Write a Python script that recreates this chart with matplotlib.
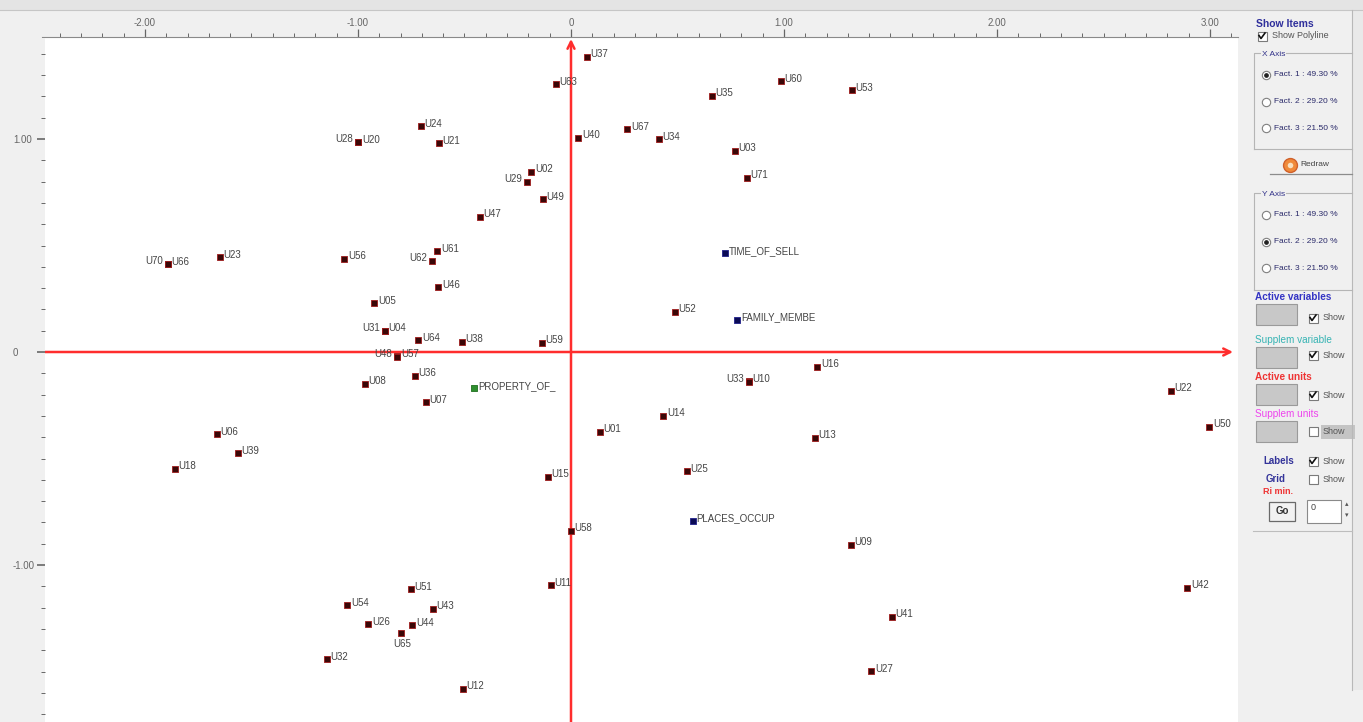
import matplotlib
matplotlib.use("Agg")
import matplotlib.pyplot as plt
from matplotlib.patches import Rectangle
from matplotlib.lines import Line2D
from matplotlib.ticker import MultipleLocator, FuncFormatter
from matplotlib.transforms import Bbox, TransformedBbox

plt.rcParams["font.family"] = ["Liberation Sans", "DejaVu Sans"]

# ---- factor scores of the active units (axis 1 / axis 2) ----
unit_names = [
    "U37", "U63", "U35", "U60", "U53", "U24", "U28", "U20", "U21", "U40",
    "U67", "U34", "U03", "U71", "U02", "U29", "U49", "U47", "U70", "U66",
    "U23", "U56", "U61", "U62", "U46", "U05", "U31", "U04", "U64", "U38",
    "U59", "U52", "U48", "U57", "U36", "U08", "U07", "U16", "U33", "U10",
    "U22", "U14", "U01", "U50", "U13", "U06", "U39", "U18", "U15", "U25",
    "U58", "U09", "U11", "U42", "U41", "U27", "U51", "U54", "U43", "U26",
    "U44", "U65", "U32", "U12",
]
unit_f1 = [
    0.073, -0.070, 0.660, 0.985, 1.318, -0.704, -1.000, -0.998, -0.620, 0.034,
    0.264, 0.413, 0.770, 0.826, -0.186, -0.208, -0.133, -0.427, -1.894, -1.892,
    -1.648, -1.064, -0.628, -0.651, -0.623, -0.923, -0.875, -0.873, -0.717, -0.513,
    -0.136, 0.488, -0.817, -0.815, -0.732, -0.967, -0.682, 1.156, 0.834, 0.836,
    2.815, 0.433, 0.136, 2.996, 1.146, -1.664, -1.563, -1.861, -0.110, 0.543,
    0.000, 1.315, -0.095, 2.894, 1.506, 1.410, -0.753, -1.050, -0.648, -0.951,
    -0.745, -0.800, -1.147, -0.509,
]
unit_f2 = [
    1.385, 1.258, 1.203, 1.272, 1.229, 1.060, 0.986, 0.984, 0.980, 1.005,
    1.045, 1.000, 0.944, 0.818, 0.847, 0.798, 0.717, 0.635, 0.414, 0.413,
    0.446, 0.437, 0.473, 0.426, 0.303, 0.228, 0.100, 0.099, 0.056, 0.048,
    0.044, 0.189, -0.021, -0.022, -0.111, -0.150, -0.236, -0.070, -0.138, -0.139,
    -0.181, -0.300, -0.374, -0.351, -0.402, -0.385, -0.476, -0.548, -0.585, -0.559,
    -0.840, -0.906, -1.094, -1.106, -1.242, -1.498, -1.114, -1.190, -1.205, -1.279,
    -1.282, -1.321, -1.443, -1.581,
]

# ---- variables ----
active_var_names = ["TIME_OF_SELL", "FAMILY_MEMBE", "PLACES_OCCUP"]
active_var_f1 = [0.722, 0.781, 0.573]
active_var_f2 = [0.463, 0.150, -0.792]
supp_var_names = ["PROPERTY_OF_"]
supp_var_f1 = [-0.454]
supp_var_f2 = [-0.171]

factor_labels = ["Fact. 1 : 49.30 %", "Fact. 2 : 29.20 %", "Fact. 3 : 21.50 %"]
x_ruler_ticks = [-2, -1, 0, 1, 2, 3]
y_ruler_ticks = [-1, 0, 1]

# ---- layout (pixel geometry of the window) ----
W, H = 1363, 722
X0, Y0, S = 571, 352, 213          # origin pixel and pixels per unit
PL, PR, PT, PB = 45, 1238, 38, 722  # plotting area

def fx(px):
    return px / W

def fy(py):
    return 1 - py / H

fig = plt.figure(figsize=(W / 100, H / 100), dpi=100, facecolor="#f0f0f0")

xlim = ((PL - X0) / S, (PR - X0) / S)
ylim = ((Y0 - PB) / S, (Y0 - PT) / S)

ax = fig.add_axes([fx(PL), fy(PB), (PR - PL) / W, (PB - PT) / H])
ax.set_xlim(*xlim)
ax.set_ylim(*ylim)
ax.set_facecolor("white")
for sp in ax.spines.values():
    sp.set_visible(False)
ax.set_xticks([])
ax.set_yticks([])

# red factor axes with arrows
axis_red = "#ff2d2d"
ax.annotate("", xy=((1233 - X0) / S, 0), xytext=(xlim[0], 0),
            arrowprops=dict(arrowstyle="->,head_length=0.5,head_width=0.25",
                            color=axis_red, lw=1.8, shrinkA=0, shrinkB=0), zorder=2)
ax.annotate("", xy=(0, (Y0 - 39) / S), xytext=(0, ylim[0]),
            arrowprops=dict(arrowstyle="->,head_length=0.5,head_width=0.25",
                            color=axis_red, lw=1.8, shrinkA=0, shrinkB=0), zorder=2)

# points
ax.scatter(unit_f1, unit_f2, marker="s", s=20, c="#3a0707",
           edgecolors="#a01c1c", linewidths=0.6, zorder=3)
ax.scatter(active_var_f1, active_var_f2, marker="s", s=20, c="#0a0a55",
           edgecolors="#20208a", linewidths=0.6, zorder=3)
ax.scatter(supp_var_f1, supp_var_f2, marker="s", s=20, c="#2f8f2f",
           edgecolors="#1f6f1f", linewidths=0.6, zorder=3)

# labels: upper right of the marker, a few drawn on the left or below
left_labels = {"U28", "U70", "U29", "U62", "U31", "U48", "U33"}
below_labels = {"U65"}
lab_kw = dict(fontsize=7, color="#444444", textcoords="offset points", zorder=4)

def put_label(name, x, y):
    if name in left_labels:
        ax.annotate(name, (x, y), xytext=(-3.4, 2.0), ha="right", va="center", **lab_kw)
    elif name in below_labels:
        ax.annotate(name, (x, y), xytext=(1.0, -8.0), ha="center", va="center", **lab_kw)
    else:
        ax.annotate(name, (x, y), xytext=(2.6, 1.8), ha="left", va="center", **lab_kw)

for n, x, y in zip(unit_names, unit_f1, unit_f2):
    put_label(n, x, y)
for n, x, y in zip(active_var_names, active_var_f1, active_var_f2):
    put_label(n, x, y)
for n, x, y in zip(supp_var_names, supp_var_f1, supp_var_f2):
    put_label(n, x, y)

fmt = FuncFormatter(lambda v, p: "0" if abs(v) < 1e-9 else f"{v:.2f}")
ruler_col = "#666666"

# top ruler
axt = fig.add_axes([fx(42), fy(37), (PR - 42) / W, 27 / H])
axt.set_xlim((42 - X0) / S, xlim[1])
axt.set_ylim(0, 1)
axt.set_facecolor("#f0f0f0")
for k, sp in axt.spines.items():
    sp.set_visible(k == "bottom")
axt.spines["bottom"].set_color("#8a8a8a")
axt.set_yticks([])
axt.set_xticks(x_ruler_ticks)
axt.xaxis.set_minor_locator(MultipleLocator(0.1))
axt.xaxis.set_major_formatter(fmt)
axt.tick_params(axis="x", which="both", direction="in", colors=ruler_col,
                labelsize=7, labelcolor=ruler_col, pad=-13.5)
axt.tick_params(axis="x", which="major", length=6, width=0.9)
axt.tick_params(axis="x", which="minor", length=3, width=0.7)

# left ruler
axl = fig.add_axes([fx(0), fy(PB), PL / W, (PB - PT) / H])
axl.set_ylim(*ylim)
axl.set_xlim(0, 1)
axl.set_facecolor("#f0f0f0")
for sp in axl.spines.values():
    sp.set_visible(False)
axl.set_xticks([])
axl.yaxis.tick_right()
axl.set_yticks(y_ruler_ticks)
axl.yaxis.set_minor_locator(MultipleLocator(0.1))
axl.yaxis.set_major_formatter(fmt)
axl.tick_params(axis="y", which="both", direction="in", colors=ruler_col,
                labelsize=7, labelcolor=ruler_col, pad=-23)
axl.tick_params(axis="y", which="major", length=6, width=1.2)
axl.tick_params(axis="y", which="minor", length=3, width=0.7)

# ---- window chrome: toolbar strip and control panel ----
def prect(x0, y0, x1, y1, **kw):
    r = Rectangle((fx(x0), fy(y1)), (x1 - x0) / W, (y1 - y0) / H,
                  transform=fig.transFigure, **kw)
    fig.add_artist(r)
    return r

def pline(xs, ys, **kw):
    fig.add_artist(Line2D([fx(v) for v in xs], [fy(v) for v in ys],
                          transform=fig.transFigure, **kw))

panel_clip = TransformedBbox(Bbox([[fx(1250), 0], [fx(1352), 1]]), fig.transFigure)

def ptext(x, y, s, **kw):
    kw.setdefault("va", "center")
    kw.setdefault("ha", "left")
    t = fig.text(fx(x), fy(y), s, **kw)
    t.set_clip_on(True)
    t.set_clip_box(panel_clip)
    return t

def checkbox(x, y, checked, caption="Show", shaded=False):
    prect(x - 4.5, y - 4.5, x + 4.5, y + 4.5, fc="white", ec="#7a7a7a", lw=0.8)
    if checked:
        pline([x - 3, x - 1, x + 3], [y - 0.5, y + 2.5, y - 3], color="#111111", lw=1.2)
    if shaded:
        prect(x + 8, y - 7, x + 42, y + 7, fc="#c4c4c4", ec="none")
    if caption:
        ptext(x + 10, y, caption, fontsize=6.5, color="#555555")

def radio(x, y, selected):
    fig.add_artist(Line2D([fx(x)], [fy(y)], marker="o", markersize=6, mfc="white",
                          mec="#808080", mew=0.8, transform=fig.transFigure))
    if selected:
        fig.add_artist(Line2D([fx(x)], [fy(y)], marker="o", markersize=2.4, mfc="#222222",
                              mec="#222222", transform=fig.transFigure))

prect(0, 0, W, 10, fc="#e4e4e4", ec="none")
pline([0, W], [10, 10], color="#c6c6c6", lw=0.8)

# scrollbar edge
prect(1352, 10, W, 690, fc="#e9e9e9", ec="none")
pline([1352, 1352], [10, 690], color="#b8b8b8", lw=0.8)

ptext(1256, 24, "Show Items", fontsize=7.5, fontweight="bold", color="#2f2f9c")
checkbox(1262, 36, True, caption="Show Polyline")

for top, bottom, title, sel in [(53, 149, "X Axis", 0), (193, 290, "Y Axis", 1)]:
    pline([1254, 1254, 1352], [bottom, top, top], color="#b5b5b5", lw=0.8)
    pline([1254, 1352], [bottom, bottom], color="#b5b5b5", lw=0.8)
    ptext(1262, top + 1, title, fontsize=6, color="#33338a",
          bbox=dict(fc="#f0f0f0", ec="none", pad=0.6))
    for i, lab in enumerate(factor_labels):
        yy = top + 22 + 26.5 * i
        radio(1266, yy, i == sel)
        ptext(1274, yy, lab, fontsize=6, color="#2a2a6a")

# redraw button
fig.add_artist(Line2D([fx(1290)], [fy(165)], marker="o", markersize=10, mfc="#f08a3a",
                      mec="#d0602a", transform=fig.transFigure))
fig.add_artist(Line2D([fx(1290)], [fy(165)], marker="o", markersize=4, mfc="#f8e0c0",
                      mec="none", transform=fig.transFigure))
ptext(1300, 165, "Redraw", fontsize=6, color="#444444")
pline([1270, 1352], [174, 174], color="#8c8c8c", lw=0.9)

sections = [
    (297, "Active variables", "#3434c4", True, 318, True, False),
    (340, "Supplem variable", "#37b4b4", False, 355, True, False),
    (377, "Active units", "#ee3434", True, 395, True, False),
    (414, "Supplem units", "#ee44ee", False, 432, False, True),
]
for ty, title, col, bold, cy, chk, shaded in sections:
    ptext(1255, ty, title, fontsize=7.2, color=col, fontweight="bold" if bold else "normal")
    prect(1256, ty + 7, 1297, ty + 28, fc="#c8c8c8", ec="#9a9a9a", lw=0.8)
    checkbox(1313, cy, chk, shaded=shaded)

ptext(1263, 461, "Labels", fontsize=7, color="#34349a", fontweight="bold")
checkbox(1313, 461, True)
ptext(1266, 479, "Grid", fontsize=7, color="#34349a", fontweight="bold")
checkbox(1313, 479, False)
ptext(1263, 492, "Ri min.", fontsize=6.5, color="#ee3434", fontweight="bold")

prect(1269, 502, 1295, 521, fc="#f2f2f2", ec="#6a6a6a", lw=0.9)
ptext(1282, 511.5, "Go", fontsize=7, color="#333333", fontweight="bold", ha="center")
prect(1307, 500, 1341, 523, fc="white", ec="#8a8a8a", lw=0.8)
ptext(1311, 508, "0", fontsize=6.5, color="#444444")
ptext(1347, 505, "\u25b4", fontsize=5, color="#555555", ha="center")
ptext(1347, 516, "\u25be", fontsize=5, color="#555555", ha="center")
pline([1253, 1352], [531, 531], color="#bdbdbd", lw=0.8)

fig.savefig("out.png", dpi=100, facecolor=fig.get_facecolor())
